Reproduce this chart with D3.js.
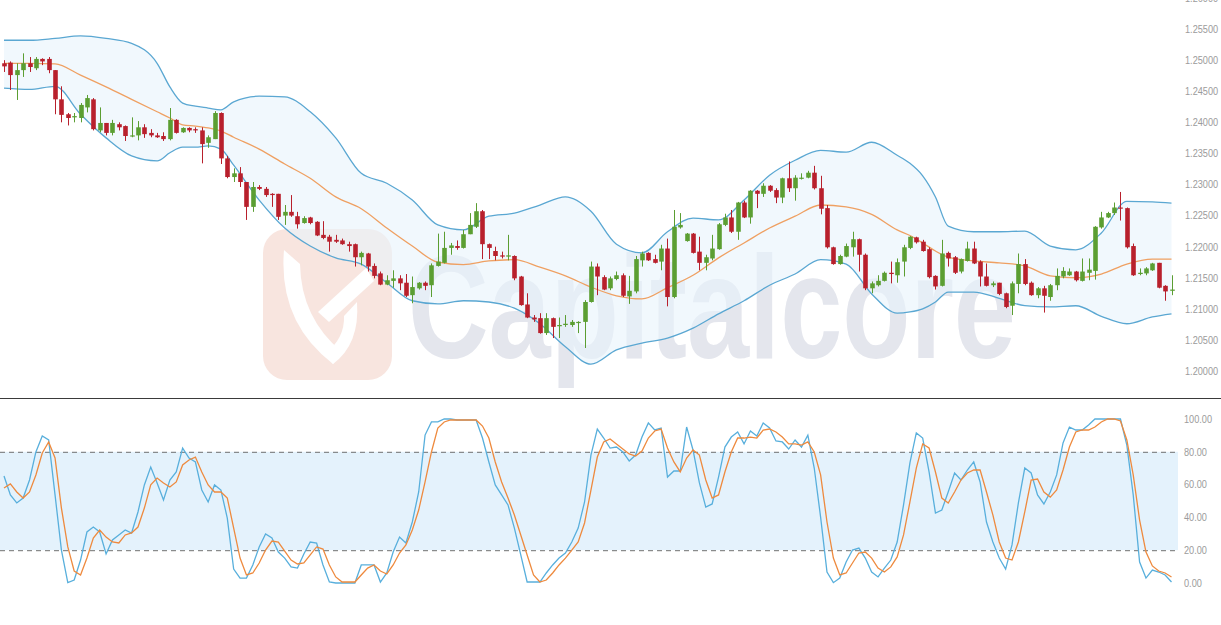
<!DOCTYPE html>
<html><head><meta charset="utf-8">
<script src="https://cdn.jsdelivr.net/npm/d3@7"></script>
<style>html,body{margin:0;padding:0;background:#fff;overflow:hidden}</style>
</head><body>
<svg id="c" width="1221" height="625"></svg>
<script>
const open=[1.2495,1.2496,1.2476,1.2484,1.2495,1.2487,1.2502,1.2502,1.2484,1.2437,
1.2413,1.2408,1.2407,1.2424,1.2437,1.2387,1.2399,1.2383,1.2397,1.2394,
1.2378,1.2379,1.2392,1.2383,1.2379,1.2378,1.2373,1.2404,1.2384,1.2391,
1.2389,1.2387,1.2367,1.2373,1.2415,1.2342,1.2312,1.2318,1.2304,1.2264,
1.2296,1.2293,1.2285,1.2285,1.2250,1.2256,1.2249,1.2238,1.2247,1.2240,
1.2219,1.2216,1.2211,1.2210,1.2204,1.2204,1.2183,1.2189,1.2169,1.2157,
1.2139,1.2145,1.2149,1.2142,1.2122,1.2133,1.2142,1.2138,1.2169,1.2174,
1.2198,1.2201,1.2198,1.2220,1.2232,1.2257,1.2204,1.2193,1.2186,1.2184,
1.2185,1.2152,1.2107,1.2086,1.2085,1.2061,1.2085,1.2072,1.2074,1.2074,
1.2078,1.2079,1.2111,1.2168,1.2151,1.2133,1.2148,1.2154,1.2120,1.2128,
1.2178,1.2190,1.2180,1.2176,1.2197,1.2119,1.2231,1.2209,1.2221,1.2192,
1.2174,1.2181,1.2196,1.2235,1.2247,1.2224,1.2271,1.2247,1.2290,1.2285,
1.2298,1.2291,1.2279,1.2310,1.2294,1.2310,1.2311,1.2319,1.2294,1.2262,
1.2199,1.2172,1.2184,1.2199,1.2212,1.2187,1.2133,1.2138,1.2145,1.2158,
1.2154,1.2176,1.2198,1.2215,1.2208,1.2196,1.2153,1.2137,1.2190,1.2183,
1.2160,1.2177,1.2197,1.2176,1.2152,1.2138,1.2142,1.2125,1.2105,1.2140,
1.2172,1.2142,1.2122,1.2133,1.2119,1.2138,1.2152,1.2154,1.2160,1.2145,
1.2158,1.2161,1.2231,1.2247,1.2254,1.2263,1.2262,1.2201,1.2156,1.2157,
1.2162,1.2174,1.2137,1.2129];
const high=[1.2500,1.2498,1.2495,1.2511,1.2505,1.2505,1.2503,1.2505,1.2484,1.2458,
1.2415,1.2415,1.2431,1.2444,1.2439,1.2424,1.2399,1.2404,1.2400,1.2395,
1.2408,1.2402,1.2397,1.2389,1.2383,1.2384,1.2423,1.2405,1.2392,1.2392,
1.2392,1.2392,1.2379,1.2418,1.2416,1.2346,1.2326,1.2328,1.2304,1.2304,
1.2299,1.2296,1.2286,1.2285,1.2267,1.2283,1.2256,1.2249,1.2248,1.2241,
1.2241,1.2219,1.2219,1.2213,1.2208,1.2205,1.2192,1.2190,1.2173,1.2160,
1.2154,1.2162,1.2154,1.2156,1.2152,1.2143,1.2144,1.2173,1.2221,1.2224,
1.2206,1.2210,1.2227,1.2254,1.2270,1.2259,1.2205,1.2200,1.2192,1.2219,
1.2186,1.2153,1.2125,1.2090,1.2093,1.2093,1.2086,1.2086,1.2090,1.2082,
1.2080,1.2114,1.2176,1.2173,1.2154,1.2152,1.2160,1.2157,1.2153,1.2185,
1.2192,1.2191,1.2187,1.2203,1.2213,1.2259,1.2254,1.2222,1.2222,1.2216,
1.2187,1.2219,1.2238,1.2253,1.2259,1.2272,1.2274,1.2291,1.2291,1.2302,
1.2299,1.2294,1.2311,1.2337,1.2315,1.2318,1.2322,1.2330,1.2314,1.2267,
1.2200,1.2187,1.2205,1.2224,1.2213,1.2189,1.2144,1.2154,1.2160,1.2176,
1.2181,1.2203,1.2217,1.2216,1.2211,1.2199,1.2154,1.2211,1.2192,1.2185,
1.2181,1.2208,1.2208,1.2178,1.2173,1.2144,1.2142,1.2126,1.2144,1.2189,
1.2180,1.2144,1.2135,1.2137,1.2140,1.2165,1.2167,1.2165,1.2161,1.2181,
1.2181,1.2233,1.2256,1.2256,1.2271,1.2288,1.2263,1.2205,1.2165,1.2167,
1.2174,1.2174,1.2138,1.2154];
const low=[1.2481,1.2452,1.2436,1.2473,1.2481,1.2484,1.2492,1.2479,1.2413,1.2400,
1.2395,1.2400,1.2400,1.2416,1.2387,1.2384,1.2379,1.2379,1.2387,1.2370,
1.2376,1.2371,1.2375,1.2376,1.2375,1.2370,1.2371,1.2382,1.2383,1.2384,
1.2383,1.2334,1.2359,1.2373,1.2333,1.2310,1.2304,1.2296,1.2243,1.2256,
1.2291,1.2280,1.2264,1.2243,1.2235,1.2248,1.2229,1.2237,1.2236,1.2217,
1.2212,1.2192,1.2206,1.2203,1.2192,1.2168,1.2170,1.2160,1.2149,1.2138,
1.2138,1.2134,1.2130,1.2119,1.2109,1.2131,1.2130,1.2119,1.2168,1.2173,
1.2187,1.2195,1.2197,1.2220,1.2230,1.2180,1.2180,1.2178,1.2181,1.2178,
1.2146,1.2105,1.2085,1.2079,1.2060,1.2058,1.2053,1.2053,1.2071,1.2071,
1.2061,1.2037,1.2110,1.2122,1.2130,1.2130,1.2146,1.2119,1.2108,1.2125,
1.2168,1.2177,1.2173,1.2162,1.2104,1.2117,1.2229,1.2208,1.2189,1.2162,
1.2162,1.2178,1.2195,1.2233,1.2222,1.2211,1.2246,1.2237,1.2262,1.2280,
1.2288,1.2270,1.2270,1.2288,1.2274,1.2308,1.2310,1.2292,1.2252,1.2197,
1.2171,1.2171,1.2183,1.2184,1.2160,1.2130,1.2125,1.2136,1.2144,1.2141,
1.2142,1.2152,1.2196,1.2205,1.2192,1.2149,1.2131,1.2136,1.2168,1.2156,
1.2157,1.2176,1.2172,1.2136,1.2136,1.2135,1.2122,1.2101,1.2090,1.2125,
1.2138,1.2121,1.2117,1.2094,1.2113,1.2130,1.2149,1.2153,1.2144,1.2144,
1.2146,1.2147,1.2229,1.2246,1.2251,1.2242,1.2197,1.2153,1.2154,1.2154,
1.2161,1.2133,1.2113,1.2122];
const close=[1.2490,1.2476,1.2484,1.2495,1.2489,1.2502,1.2498,1.2484,1.2437,1.2412,
1.2407,1.2410,1.2428,1.2439,1.2389,1.2399,1.2383,1.2399,1.2392,1.2378,
1.2379,1.2392,1.2381,1.2379,1.2376,1.2373,1.2404,1.2383,1.2391,1.2387,
1.2387,1.2365,1.2376,1.2415,1.2342,1.2312,1.2318,1.2304,1.2264,1.2296,
1.2293,1.2283,1.2283,1.2248,1.2256,1.2250,1.2236,1.2246,1.2238,1.2218,
1.2214,1.2208,1.2208,1.2204,1.2201,1.2183,1.2190,1.2168,1.2153,1.2139,
1.2146,1.2149,1.2141,1.2121,1.2135,1.2142,1.2137,1.2170,1.2176,1.2198,
1.2202,1.2198,1.2220,1.2235,1.2257,1.2204,1.2198,1.2185,1.2184,1.2186,
1.2149,1.2106,1.2086,1.2083,1.2061,1.2085,1.2071,1.2074,1.2076,1.2079,
1.2079,1.2111,1.2168,1.2152,1.2131,1.2149,1.2154,1.2121,1.2129,1.2180,
1.2189,1.2178,1.2174,1.2197,1.2119,1.2232,1.2235,1.2221,1.2190,1.2174,
1.2183,1.2197,1.2236,1.2247,1.2224,1.2271,1.2247,1.2290,1.2285,1.2298,
1.2290,1.2279,1.2310,1.2294,1.2311,1.2311,1.2319,1.2294,1.2261,1.2199,
1.2172,1.2185,1.2201,1.2212,1.2187,1.2133,1.2141,1.2145,1.2158,1.2156,
1.2175,1.2199,1.2216,1.2207,1.2193,1.2151,1.2136,1.2189,1.2181,1.2158,
1.2180,1.2197,1.2173,1.2152,1.2137,1.2141,1.2124,1.2103,1.2141,1.2172,
1.2140,1.2122,1.2133,1.2121,1.2138,1.2153,1.2161,1.2160,1.2146,1.2160,
1.2163,1.2232,1.2247,1.2254,1.2263,1.2262,1.2199,1.2154,1.2158,1.2165,
1.2173,1.2134,1.2128,1.2131];

const bandIdx=[0,4,8,12,16,20,24,26,28,30,32,34,36,40,44,48,52,56,60,64,68,72,76,80,84,88,92,
96,100,104,108,112,116,120,124,128,132,136,140,142,144,146,148,152,156,160,164,168,172,176,180,183];
const bbUpper=[1.2532,1.2532,1.2535,1.2539,1.2535,1.2527,1.2495,1.2457,1.2431,1.2426,1.2423,1.2420,1.2433,
1.2442,1.2441,1.2417,1.2375,1.2318,1.2302,1.2275,1.2235,1.2227,1.2249,1.2254,1.2267,1.2280,1.2257,
1.2204,1.2190,1.2224,1.2246,1.2243,1.2275,1.2315,1.2339,1.2355,1.2352,1.2368,1.2347,1.2334,1.2314,1.2280,1.2233,
1.2224,1.2224,1.2225,1.2201,1.2195,1.2222,1.2273,1.2272,1.2270];
const bbMiddle=[1.2495,1.2495,1.2494,1.2476,1.2457,1.2437,1.2417,1.2407,1.2396,1.2394,1.2391,1.2386,1.2376,
1.2357,1.2333,1.2310,1.2280,1.2261,1.2230,1.2201,1.2175,1.2171,1.2177,1.2179,1.2167,1.2153,1.2135,
1.2121,1.2116,1.2134,1.2154,1.2182,1.2206,1.2230,1.2249,1.2267,1.2264,1.2252,1.2227,1.2218,1.2206,1.2193,1.2183,
1.2177,1.2174,1.2169,1.2153,1.2150,1.2156,1.2172,1.2180,1.2180];
const bbLower=[1.2455,1.2453,1.2458,1.2413,1.2375,1.2346,1.2338,1.2351,1.2360,1.2360,1.2362,1.2357,1.2331,
1.2275,1.2230,1.2201,1.2182,1.2172,1.2142,1.2113,1.2108,1.2113,1.2111,1.2101,1.2076,1.2039,1.2011,
1.2034,1.2045,1.2053,1.2069,1.2092,1.2113,1.2138,1.2156,1.2179,1.2172,1.2124,1.2093,1.2095,1.2100,1.2111,1.2127,
1.2127,1.2117,1.2105,1.2103,1.2105,1.2088,1.2076,1.2087,1.2092];

const stochK=[65.2,53.7,48.8,51.8,62.8,79.9,89.6,87.2,53.7,20.1,
0.2,1.8,14.0,31.1,34.1,31.1,17.7,26.2,29.3,32.3,
30.5,43.3,59.8,70.7,61.0,50.6,62.8,67.7,82.3,76.2,
73.8,56.7,49.4,59.8,56.7,39.6,8.5,3.0,3.0,11.0,
22.0,29.9,27.4,18.9,15.2,9.8,9.1,17.7,25.0,24.4,
11.0,0.6,0,0,0,0,11.0,11.0,11.0,0.6,
6.1,18.9,28.0,24.4,37.2,55.5,90.2,98.2,98.2,100,
100,99.4,99.4,99.4,99.4,88.4,73.8,59.8,53.7,47.6,
33.5,17.1,0.6,0.6,0.6,6.1,11.0,15.2,18.3,25.0,
33.5,49.4,78.0,93.9,88.4,82.3,82.9,79.9,74.4,78.0,
89.0,97.6,93.3,94.5,64.6,68.3,68.3,95.1,81.1,61.0,
46.3,48.2,64.6,82.9,89.0,92.1,84.8,92.7,89.6,97.6,
94.5,86.6,86.0,81.7,87.2,82.9,90.2,70.1,40.2,6.7,
0.2,3.0,12.8,20.1,21.3,15.2,6.7,3.7,9.1,14.0,
25.0,47.6,73.2,91.5,88.4,67.7,42.7,44.5,55.5,67.1,
62.8,68.9,73.8,61.6,37.2,25.0,15.2,8.5,23.2,48.8,
70.1,67.1,53.7,48.2,55.5,65.9,85.4,95.1,93.3,93.3,
96.3,100,100,100,100,100,84.1,53.7,12.8,3.0,
7.9,6.7,4.9,0.6];
const stochD=[57.9,60.4,55.5,51.8,55.5,65.9,79.3,86.0,76.2,45.7,
22.0,7.3,4.9,15.2,27.4,32.3,28.0,25.0,24.4,29.3,
30.5,34.1,45.7,59.8,64.0,61.0,58.5,61.6,72.0,75.0,
76.8,67.7,59.8,55.5,55.5,51.8,33.5,15.2,4.9,6.1,
12.2,20.1,25.6,25.0,19.5,14.0,11.6,12.2,17.1,22.0,
20.7,11.0,3.7,0.6,0.6,0.6,4.9,9.1,11.0,7.3,
5.5,11.0,18.3,23.2,32.3,44.5,61.6,79.9,94.5,98.2,
99.4,99.4,99.4,99.4,99.4,95.7,88.4,73.8,61.6,51.8,
41.5,29.3,17.1,4.9,0.6,1.8,6.1,11.0,15.2,20.1,
25.0,36.6,56.7,76.8,86.0,87.8,84.8,81.7,78.7,77.4,
80.5,88.4,92.7,93.9,82.3,73.8,67.7,76.2,81.1,78.0,
62.8,51.8,53.7,67.7,79.9,88.4,88.4,89.0,88.4,93.3,
93.9,92.1,89.0,84.8,84.8,84.1,86.0,79.9,65.9,37.2,
15.2,4.9,6.1,12.2,18.3,18.9,15.2,9.1,6.7,9.8,
15.9,29.3,49.4,70.1,84.8,82.3,67.7,51.8,48.8,55.5,
62.8,67.1,68.9,68.9,55.5,41.5,25.0,15.2,14.0,25.0,
43.3,62.8,63.4,55.5,52.4,56.7,68.9,82.9,92.1,93.3,
93.3,95.1,98.2,100,100,98.8,87.2,65.9,38.4,18.9,
10.4,7.3,6.1,3.7];

const priceTicks=[1.20,1.205,1.21,1.215,1.22,1.225,1.23,1.235,1.24,1.245,1.25,1.255,1.26];
const stochTicks=[0,20,40,60,80,100];
const stochLevels=[20,80];
const watermarkText="Capitalcore";

const svg=d3.select('#c');
const N=open.length;
const x=d3.scaleLinear().domain([0,N-1]).range([4,1171.5]);
const y=d3.scaleLinear().domain([1.20,1.26]).range([371,-2]);
const ys=d3.scaleLinear().domain([0,100]).range([583,419]);

const UP='#5b9e32', DOWN='#b8202c';

svg.append('defs').append('clipPath').attr('id','mainclip')
  .append('rect').attr('x',0).attr('y',0).attr('width',1180).attr('height',398);
const main=svg.append('g').attr('clip-path','url(#mainclip)');

// watermark
const wm=main.append('g');
wm.append('rect').attr('x',263).attr('y',229).attr('width',129).attr('height',151).attr('rx',24)
  .attr('fill','#f8e5df');
wm.append('path').attr('fill','#fff')
  .attr('d','M284,250 Q278,322 333,364 L342,352 Q301,318 300,264 Z');
wm.append('path').attr('fill','#fff')
  .attr('d','M333,364 Q360,344 357,302 L344,316 Q345,338 325,354 Z');
wm.append('path').attr('fill','#fff')
  .attr('d','M318,312 L366,268 L374,281 L329,322 Z');
const wt=wm.append('text').text(watermarkText)
  .attr('x',0).attr('y',0)
  .attr('font-family','Liberation Sans, Arial, sans-serif').attr('font-weight','bold')
  .attr('font-size',146).attr('fill','#e4e6ed');
const wtw=wt.node().getComputedTextLength();
wt.attr('transform',`translate(408,358) scale(${608/wtw},1)`);

// bollinger bands
const bandData=bandIdx.map((idx,k)=>({i:idx,u:bbUpper[k],m:bbMiddle[k],l:bbLower[k]}));
const curve=d3.curveMonotoneX;
main.append('path').datum(bandData)
  .attr('d',d3.area().x(d=>x(d.i)).y0(d=>y(d.l)).y1(d=>y(d.u)).curve(curve))
  .attr('fill','#e8f3fb').attr('fill-opacity',0.6);
[['u','#5aa7d2'],['l','#5aa7d2'],['m','#efa062']].forEach(([k,c])=>{
  main.append('path').datum(bandData)
    .attr('d',d3.line().x(d=>x(d.i)).y(d=>y(d[k])).curve(curve))
    .attr('fill','none').attr('stroke',c).attr('stroke-width',1.3);
});

// candles
const candles=d3.range(N).map(i=>({i,o:open[i],h:high[i],l:low[i],c:close[i]}));
const cg=main.append('g').selectAll('g').data(candles).join('g');
cg.append('line')
  .attr('x1',d=>Math.round(x(d.i))+0.5).attr('x2',d=>Math.round(x(d.i))+0.5)
  .attr('y1',d=>y(d.h)).attr('y2',d=>y(d.l))
  .attr('stroke',d=>d.c>=d.o?UP:DOWN).attr('stroke-width',1);
const bw=4.6;
cg.append('rect')
  .attr('x',d=>Math.round(x(d.i))+0.5-bw/2)
  .attr('width',bw)
  .attr('y',d=>Math.min(y(d.o),y(d.c)))
  .attr('height',d=>Math.max(1.2,Math.abs(y(d.o)-y(d.c))))
  .attr('fill',d=>d.c>=d.o?UP:DOWN);

// axis labels (narrow, scaled horizontally)
const lblFont='Liberation Sans, Arial, sans-serif';
function tl(s){return (s.replace(/\./g,'').length)*5.1+(s.split('.').length-1)*2.6;}
function label(g,x0,y0,s){
  const t=g.append('text').text(s).attr('x',0).attr('y',0).attr('dy','0.35em')
    .attr('font-family',lblFont).attr('font-size',11).attr('fill','#9b9b9b');
  const w=t.node().getComputedTextLength();
  t.attr('transform',`translate(${x0},${y0}) scale(${tl(s)/w},1)`);
}
const pa=svg.append('g');
priceTicks.forEach(v=>label(pa,1185,y(v),d3.format('.5f')(v)));

// separator
svg.append('line').attr('x1',0).attr('x2',1221).attr('y1',398.5).attr('y2',398.5)
  .attr('stroke','#3a3a3a').attr('stroke-width',1.2);

// stochastic panel
const sp=svg.append('g');
sp.append('rect').attr('x',0).attr('width',1178)
  .attr('y',ys(stochLevels[1])).attr('height',ys(stochLevels[0])-ys(stochLevels[1]))
  .attr('fill','#e4f2fc');
sp.selectAll('line.lvl').data(stochLevels).join('line').attr('class','lvl')
  .attr('x1',0).attr('x2',1178).attr('y1',d=>ys(d)+0.5).attr('y2',d=>ys(d)+0.5)
  .attr('stroke','#707070').attr('stroke-dasharray','5,4').attr('stroke-width',1);
sp.append('path').datum(stochK)
  .attr('d',d3.line().x((d,i)=>x(i)).y(d=>ys(d)))
  .attr('fill','none').attr('stroke','#58afdc').attr('stroke-width',1.3);
sp.append('path').datum(stochD)
  .attr('d',d3.line().x((d,i)=>x(i)).y(d=>ys(d)))
  .attr('fill','none').attr('stroke','#ee8a3e').attr('stroke-width',1.3);
const sa=svg.append('g');
stochTicks.forEach(v=>label(sa,1184,ys(v),d3.format('.2f')(v)));
</script>
</body></html>
